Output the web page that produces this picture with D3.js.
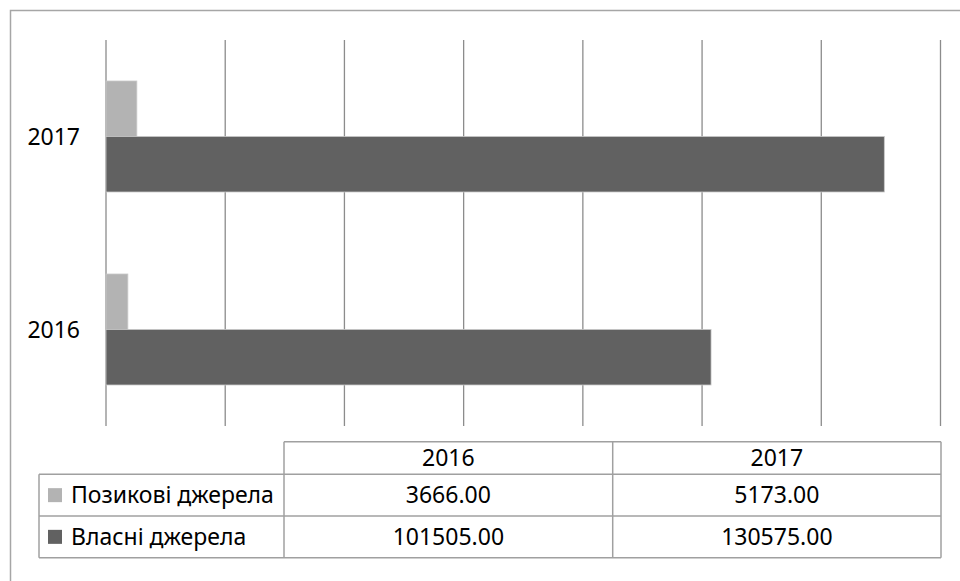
<!DOCTYPE html>
<html>
<head>
<meta charset="utf-8">
<script src="https://d3js.org/d3.v7.min.js"></script>
<style>
  body { margin: 0; background: #ffffff; }
  svg { display: block; }
</style>
</head>
<body>
<div id="chart"></div>
<script>
// Data
var years = ["2016", "2017"];
var seriesNames = ["Позикові джерела", "Власні джерела"];
var borrowed = [3666, 5173];
var own = [101505, 130575];
var xTicks = [0, 20000, 40000, 60000, 80000, 100000, 120000, 140000];

var colors = ["#b3b3b3", "#616161"];
var seriesValues = [borrowed, own];

var width = 960;
var height = 581;
var fontFamily = "'Noto Sans', 'DejaVu Sans', sans-serif";
var fontSize = 23;

var svg = d3.select('#chart')
    .append('svg')
    .attr('width', width)
    .attr('height', height);

// Outer chart border (runs off the right and bottom edges)
svg.append('rect')
    .attr('x', 10.5)
    .attr('y', 10.5)
    .attr('width', 980)
    .attr('height', 600)
    .attr('fill', 'none')
    .attr('stroke', '#a6a6a6')
    .attr('stroke-width', 1.5);

// Scales
var x = d3.scaleLinear()
    .domain([0, 140000])
    .range([106, 940.5]);

var y = d3.scaleBand()
    .domain(years.slice().reverse())  // 2017 on top
    .range([40, 426])
    .paddingInner(0.425)
    .paddingOuter(0.2125);

var ySub = d3.scaleBand()
    .domain(seriesNames)
    .range([0, y.bandwidth()]);

// Gridlines
svg.append('g')
    .selectAll('line')
    .data(xTicks)
    .enter()
    .append('line')
    .attr('x1', d => x(d))
    .attr('x2', d => x(d))
    .attr('y1', 40)
    .attr('y2', 426)
    .attr('stroke', '#8c8c8c')
    .attr('stroke-width', 1.3);

// Flatten values for bars
var barData = [];
seriesNames.forEach(function (s, si) {
    years.forEach(function (yr, yi) {
        barData.push({ series: s, year: yr, value: seriesValues[si][yi], color: colors[si] });
    });
});

svg.append('g')
    .selectAll('rect')
    .data(barData)
    .enter()
    .append('rect')
    .attr('x', x(0))
    .attr('y', d => y(d.year) + ySub(d.series))
    .attr('width', d => x(d.value) - x(0))
    .attr('height', ySub.bandwidth())
    .attr('fill', d => d.color)
    .attr('stroke', '#c8c8c8')
    .attr('stroke-width', 0.8);

// Category labels
svg.append('g')
    .selectAll('text')
    .data(years)
    .enter()
    .append('text')
    .attr('x', 80)
    .attr('y', d => y(d) + y.bandwidth() / 2)
    .attr('dy', '0.35em')
    .attr('text-anchor', 'end')
    .style('font-family', fontFamily)
    .style('font-size', fontSize + 'px')
    .style('fill', '#000')
    .text(d => d);

// Data table
var colEdges = [39, 284, 612.7, 941];
var rowEdges = [441.7, 474.3, 516, 557.7];
var tableStroke = '#a0a0a0';
var table = svg.append('g');

// horizontal lines
table.selectAll('.hline')
    .data(rowEdges)
    .enter()
    .append('line')
    .attr('class', 'hline')
    .attr('x1', (d, i) => i === 0 ? colEdges[1] : colEdges[0])
    .attr('x2', colEdges[3])
    .attr('y1', d => d)
    .attr('y2', d => d)
    .attr('stroke', tableStroke)
    .attr('stroke-width', 1.5);

// vertical lines
table.selectAll('.vline')
    .data(colEdges)
    .enter()
    .append('line')
    .attr('class', 'vline')
    .attr('x1', d => d)
    .attr('x2', d => d)
    .attr('y1', (d, i) => i === 0 ? rowEdges[1] : rowEdges[0])
    .attr('y2', rowEdges[3])
    .attr('stroke', tableStroke)
    .attr('stroke-width', 1.5);

// header
table.selectAll('.head')
    .data(years)
    .enter()
    .append('text')
    .attr('class', 'head')
    .attr('x', (d, i) => (colEdges[i + 1] + colEdges[i + 2]) / 2)
    .attr('y', (rowEdges[0] + rowEdges[1]) / 2)
    .attr('dy', '0.35em')
    .attr('text-anchor', 'middle')
    .style('font-family', fontFamily)
    .style('font-size', fontSize + 'px')
    .text(d => d);

// rows
seriesNames.forEach(function (s, si) {
    var cy = (rowEdges[si + 1] + rowEdges[si + 2]) / 2;
    table.append('rect')
        .attr('x', 48)
        .attr('y', cy - 7)
        .attr('width', 14)
        .attr('height', 14)
        .attr('fill', colors[si]);
    table.append('text')
        .attr('x', 71)
        .attr('y', cy)
        .attr('dy', '0.35em')
        .style('font-family', fontFamily)
        .style('font-size', fontSize + 'px')
        .text(s);
    table.selectAll('.val' + si)
        .data(seriesValues[si])
        .enter()
        .append('text')
        .attr('x', (d, i) => (colEdges[i + 1] + colEdges[i + 2]) / 2)
        .attr('y', cy)
        .attr('dy', '0.35em')
        .attr('text-anchor', 'middle')
        .style('font-family', fontFamily)
        .style('font-size', fontSize + 'px')
        .text(d => d.toFixed(2));
});
</script>
</body>
</html>
